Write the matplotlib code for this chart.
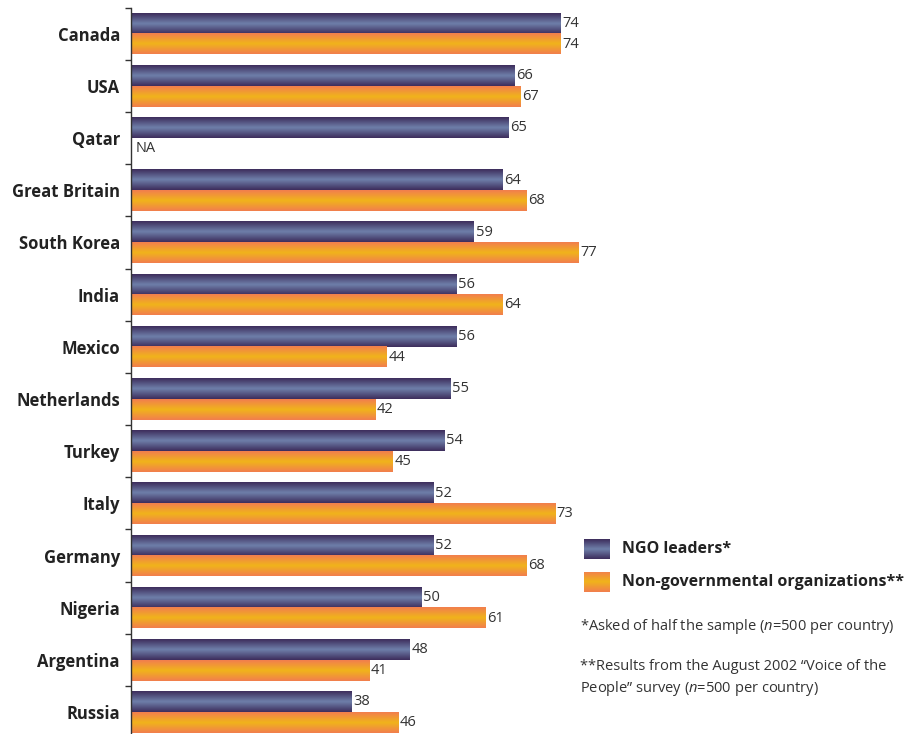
import numpy as np
import matplotlib
matplotlib.use("Agg")
import matplotlib.pyplot as plt
from matplotlib.colors import LinearSegmentedColormap

countries = ["Canada", "USA", "Qatar", "Great Britain", "South Korea", "India", "Mexico",
             "Netherlands", "Turkey", "Italy", "Germany", "Nigeria", "Argentina", "Russia"]
ngo_leaders = [74, 66, 65, 64, 59, 56, 56, 55, 54, 52, 52, 50, 48, 38]
ngos = [74, 67, None, 68, 77, 64, 44, 42, 45, 73, 68, 61, 41, 46]
series_names = ["NGO leaders*", "Non-governmental organizations**"]

plt.rcParams['font.family'] = ['Open Sans', 'DejaVu Sans']
plt.rcParams['mathtext.fontset'] = 'custom'
plt.rcParams['mathtext.rm'] = 'Open Sans'
plt.rcParams['mathtext.it'] = 'Open Sans:italic'

purple_cmap = LinearSegmentedColormap.from_list("p", ["#3d2d5c", "#6f80aa", "#3d2d5c"])
orange_cmap = LinearSegmentedColormap.from_list("o", ["#f27e4e", "#f0b41a", "#f27e4e"])
grad = np.linspace(0, 1, 64).reshape(-1, 1)

W, H = 905, 734
fig = plt.figure(figsize=(W / 100, H / 100), dpi=100)
ax_left, ax_top, ax_bottom = 131, 7.7, 734
ax = fig.add_axes([ax_left / W, 1 - ax_bottom / H, 581 / W, (ax_bottom - ax_top) / H])

y = np.arange(len(countries))
h = 0.395
text_color = "#333333"

def grad_bars(vals, offset, cmap):
    for i, v in enumerate(vals):
        if v is None:
            continue
        y0 = i + offset - h / 2
        ax.imshow(grad, cmap=cmap, aspect='auto', extent=[0, v, y0 + h, y0],
                  interpolation='bicubic', zorder=2)
        ax.text(v + 0.3, i + offset, str(v), va='center', ha='left',
                fontsize=10.5, color=text_color)

grad_bars(ngo_leaders, -h / 2, purple_cmap)
grad_bars(ngos, h / 2, orange_cmap)
ax.text(0.8, 2 + h / 2, "NA", va='center', ha='left', fontsize=10.5, color=text_color)

ax.set_xlim(0, 100)
ax.set_ylim(13.42, -0.5)
for s in ["top", "right", "bottom"]:
    ax.spines[s].set_visible(False)
ax.spines["left"].set_color("#333333")
ax.spines["left"].set_linewidth(1.0)
ax.set_xticks([])
ax.set_yticks(y)
ax.set_yticklabels(countries, fontsize=12, fontweight='bold', color="#222222")
ax.tick_params(axis='y', which='major', length=0, pad=8)
ax.set_yticks(np.arange(-0.5, 13.5, 1), minor=True)
ax.tick_params(axis='y', which='minor', length=4, width=1, color="#333333")

# legend swatches
def swatch(x0, y0, cmap):
    sax = fig.add_axes([x0 / W, 1 - (y0 + 20) / H, 26 / W, 20 / H])
    sax.imshow(grad, cmap=cmap, aspect='auto', interpolation='bicubic')
    sax.axis('off')

swatch(584, 539, purple_cmap)
swatch(584, 572, orange_cmap)
fig.text(622 / W, 1 - 549 / H, series_names[0], fontsize=11.5, fontweight='bold',
         color="#222222", va='center', ha='left')
fig.text(622 / W, 1 - 582 / H, series_names[1], fontsize=11.5, fontweight='bold',
         color="#222222", va='center', ha='left')
fig.text(580 / W, 1 - 627 / H, r"*Asked of half the sample ($n$=500 per country)",
         fontsize=10.5, color=text_color, va='center', ha='left')
fig.text(580 / W, 1 - 667 / H, "**Results from the August 2002 \u201cVoice of the",
         fontsize=10.5, color=text_color, va='center', ha='left')
fig.text(580 / W, 1 - 688 / H, "People\u201d survey ($n$=500 per country)",
         fontsize=10.5, color=text_color, va='center', ha='left')

fig.savefig("out.png", dpi=100)
